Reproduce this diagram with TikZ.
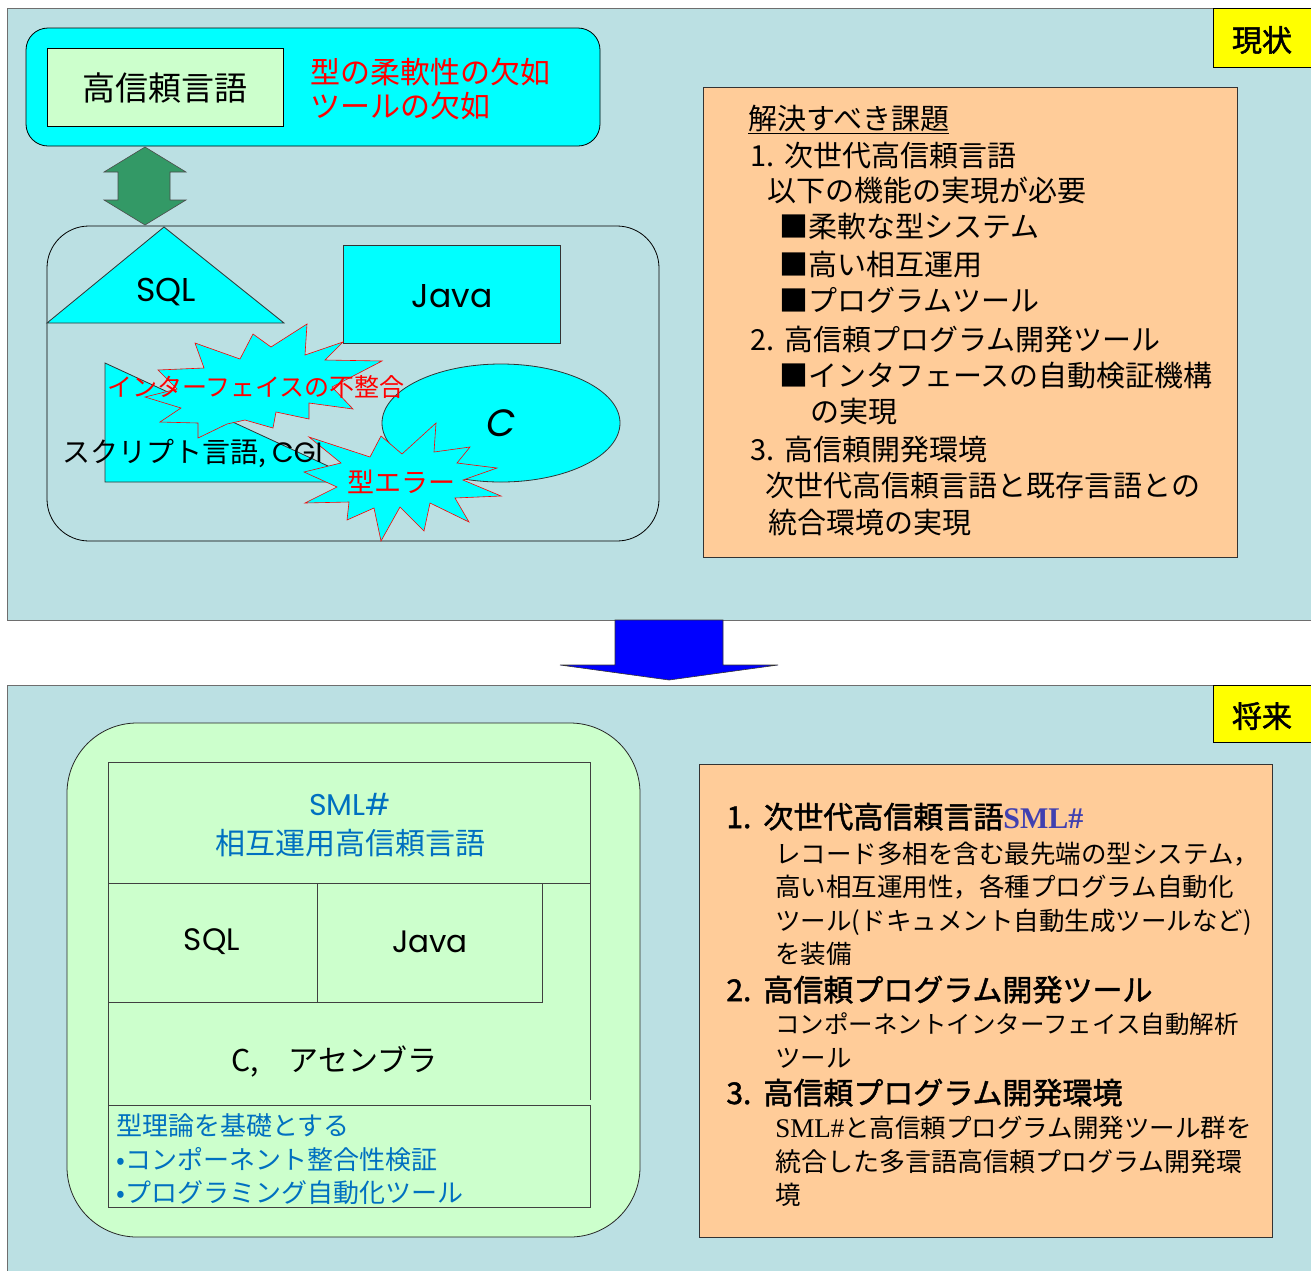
\documentclass[tikz,border=0pt]{standalone}
\usepackage{fontspec}
\newfontfamily\jp{Noto Sans CJK JP}
\newfontfamily\jpb{Noto Sans CJK JP}[FakeBold=1.6]
\newfontfamily\lat{Poppins}
\newfontfamily\ser{Liberation Serif}
\definecolor{bgblue}{RGB}{187,224,227}
\definecolor{cy}{RGB}{0,255,255}
\definecolor{lgreen}{RGB}{204,255,204}
\definecolor{orng}{RGB}{255,204,153}
\definecolor{yel}{RGB}{255,255,0}
\definecolor{dgreen}{RGB}{51,153,102}
\definecolor{txtblue}{RGB}{0,112,192}
\definecolor{smlblue}{RGB}{64,64,176}
\definecolor{pborder}{RGB}{110,110,110}
\newcommand\fs[1]{\fontsize{#1}{#1}\selectfont}
\begin{document}
\begin{tikzpicture}[x=1pt,y=-1pt,
  line width=0.8pt,
  txt/.style={inner sep=0pt, font=\jp},
  tl/.style={inner sep=0pt, anchor=base west, font={\jp\fs{29}}},
  bh/.style={inner sep=0pt, anchor=base west, font={\jpb\fs{30}}},
  bs/.style={inner sep=0pt, anchor=base west, font={\jp\fs{25.5}}},
  bl/.style={inner sep=0pt, anchor=base west, font={\jp\fs{26}}, text=txtblue},
  star/.style={fill=cy, draw=red, line width=0.6pt},
  thinbox/.style={draw=black!75, line width=0.8pt}]
\useasboundingbox (0,0) rectangle (1311,1270);
\fill[white] (0,0) rectangle (1311,1270);
% panels
\filldraw[fill=bgblue, draw=pborder] (7,8) rectangle (1315,620);
\filldraw[fill=bgblue, draw=pborder] (7,685) rectangle (1315,1275);
% big blue arrow
\filldraw[fill=blue, draw=black!80, line width=0.6pt] (615,620) -- (723,620) -- (723,665) -- (778,665) -- (669,680) -- (560,665) -- (615,665) -- cycle;
% labels
\filldraw[fill=yel, draw=black] (1213,8) rectangle (1315,67);
\node[txt, font={\jpb\fs{30}}] (now) at (1262,40) {現状};
\filldraw[fill=yel, draw=black] (1213,685) rectangle (1315,742);
\node[txt, font={\jpb\fs{30}}] (future) at (1262,716) {将来};

% ---------- top left ----------
\filldraw[fill=cy, draw=black, rounded corners=22pt] (26,28) rectangle (600,146);
\filldraw[fill=lgreen, draw=black] (47,48) rectangle (283,126);
\node[txt, font={\jp\fs{33}}] (hrl) at (165,88) {高信頼言語};
\node[tl, text=red, font={\jp\fs{30}}] (lack1) at (310,83) {型の柔軟性の欠如};
\node[tl, text=red, font={\jp\fs{30}}] (lack2) at (310,117) {ツールの欠如};
% lower rounded box
\draw[black, rounded corners=42pt] (47,226) rectangle (659,541);
% green double arrow
\filldraw[fill=dgreen, draw=black!70, line width=0.6pt] (145,147) -- (186,172) -- (170,172) -- (170,200) -- (186,200) -- (145,225) -- (104,200) -- (118,200) -- (118,172) -- (104,172) -- cycle;
% SQL triangle
\filldraw[fill=cy, draw=black!80] (164,227) -- (284,323) -- (47,323) -- cycle;
\node[txt, font={\lat\fs{33}}] (sql1) at (166,292) {SQL};
% Java rect
\filldraw[fill=cy, draw=black!80] (343,245) rectangle (560,343);
\node[txt, font={\lat\fs{33}}] (java1) at (452,296) {Java};
% script shape
\filldraw[fill=cy, draw=black!80] (105,363) -- (328,466) -- (328,482) -- (105,482) -- cycle;
% star 1
\filldraw[star] (307,324) -- (305,355) -- (343,342) -- (325,360) -- (382,361) -- (332,387) -- (353,409) -- (309,403) -- (309,419) -- (276,412) -- (273,428) -- (245,420) -- (227,424) -- (198,438) -- (198,423) -- (160,422) -- (181,408) -- (145,397) -- (177,389) -- (158,370) -- (204,368) -- (195,343) -- (240,359) -- (253,334) -- (271,347) -- cycle;
% ellipse C
\filldraw[fill=cy, draw=black!80] (501,423) ellipse [x radius=119, y radius=59];
\node[txt, font={\lat\itshape\fs{38}}] (c1) at (501,423) {C};
% star 2
\filldraw[star] (436,423) -- (402,454) -- (381,436) -- (370,457) -- (309,437) -- (341,463) -- (304,472) -- (337,487) -- (305,503) -- (349,502) -- (347,520) -- (374,508) -- (381,541) -- (400,507) -- (424,531) -- (430,503) -- (469,522) -- (455,498) -- (501,496) -- (463,480) -- (497,468) -- (457,463) -- (470,447) -- (434,452) -- cycle;
\node[txt, text=red, font={\jp\fs{25}}] (iface) at (256,387) {インターフェイスの不整合};
\node[txt, text=red, font={\jp\fs{27}}] (typeerr) at (401,482) {型エラー};
\node[inner sep=0pt, anchor=base west, font={\jp\fs{28}}] (script) at (62,462) {スクリプト言語,\hspace{6pt}{\lat CGI}};

% ---------- top right ----------
\filldraw[fill=orng, draw=black!80] (703,87) rectangle (1237,557);
\node[tl] (t0) at (748,129) {\underline{解決すべき課題}};
\node[tl] (t1) at (750,166) {1.\hspace{0.35em}次世代高信頼言語};
\node[tl] (t2) at (767,201) {以下の機能の実現が必要};
\node[tl] (t3) at (779,237) {■柔軟な型システム};
\node[tl] (t4) at (779,275) {■高い相互運用};
\node[tl] (t5) at (779,311) {■プログラムツール};
\node[tl] (t6) at (750,350) {2.\hspace{0.35em}高信頼プログラム開発ツール};
\node[tl] (t7) at (779,386) {■インタフェースの自動検証機構};
\node[tl] (t8) at (810,422) {の実現};
\node[tl] (t9) at (750,460) {3.\hspace{0.35em}高信頼開発環境};
\node[tl] (t10) at (765,496) {次世代高信頼言語と既存言語との};
\node[tl] (t11) at (768,533) {統合環境の実現};

% ---------- bottom left ----------
\filldraw[fill=lgreen, draw=black!85, rounded corners=70pt] (67,723) rectangle (640,1237);
\draw[thinbox] (108,762) rectangle (590,883);
\draw[thinbox] (108,883) rectangle (317,1002);
\draw[thinbox] (317,883) rectangle (542,1002);
\draw[thinbox] (108,1002) -- (108,1105);
\draw[thinbox] (590,883) -- (590,1100);
\draw[thinbox] (108,1105) rectangle (590,1207);
\node[txt, text=txtblue, font={\lat\fs{30}}] (sml) at (350,804) {SML\#};
\node[txt, text=txtblue, font={\jp\fs{30}}] (sml2) at (350,843) {相互運用高信頼言語};
\node[txt, font={\lat\fs{31}}] (sql2) at (212,942) {SQL};
\node[txt, font={\lat\fs{31}}] (java2) at (430,942) {Java};
\node[inner sep=0pt, anchor=base west, font={\jp\fs{30}}] (casm) at (231,1071) {C,\hspace{30pt}アセンブラ};
\node[bl] (b1) at (116,1135) {型理論を基礎とする};
\node[bl] (b2) at (116,1169) {•コンポーネント整合性検証};
\node[bl] (b3) at (116,1202) {•プログラミング自動化ツール};

% ---------- bottom right ----------
\filldraw[fill=orng, draw=black!80] (699,764) rectangle (1272,1237);
\node[bh] (f1) at (726,828) {1.\hspace{0.4em}次世代高信頼言語{\ser\bfseries\color{smlblue}SML\#}};
\node[bs] (f2) at (775,863) {レコード多相を含む最先端の型システム，};
\node[bs] (f3) at (775,896) {高い相互運用性，各種プログラム自動化};
\node[bs] (f4) at (775,930) {ツール(ドキュメント自動生成ツールなど)};
\node[bs] (f5) at (775,963) {を装備};
\node[bh] (f6) at (726,1001) {2.\hspace{0.4em}高信頼プログラム開発ツール};
\node[bs, font={\jp\fs{24.5}}] (f7) at (775,1033) {コンポーネントインターフェイス自動解析};
\node[bs] (f8) at (775,1067) {ツール};
\node[bh] (f9) at (726,1104) {3.\hspace{0.4em}高信頼プログラム開発環境};
\node[bs] (f10) at (775,1137) {{\ser\fs{27}SML\#}と高信頼プログラム開発ツール群を};
\node[bs, font={\jp\fs{26}}] (f11) at (775,1171) {統合した多言語高信頼プログラム開発環};
\node[bs] (f12) at (775,1204) {境};
\end{tikzpicture}
\end{document}
